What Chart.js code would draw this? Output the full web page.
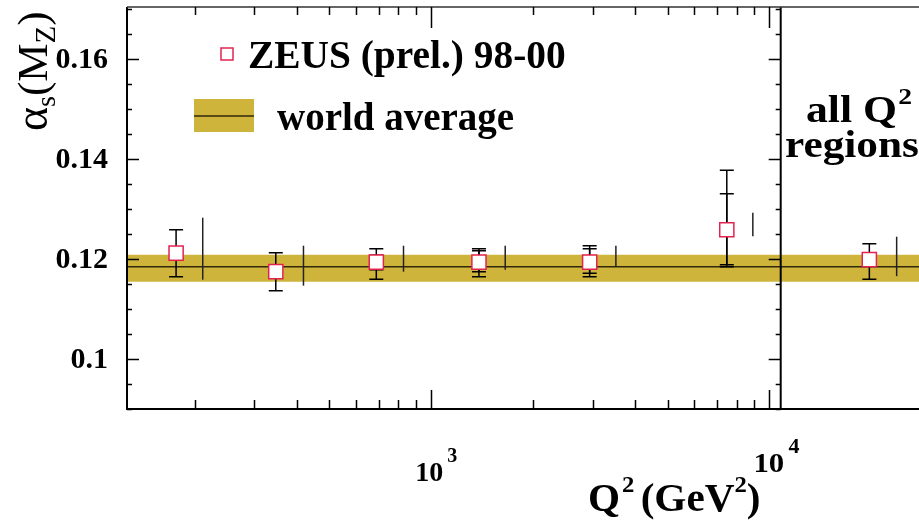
<!DOCTYPE html>
<html>
<head>
<meta charset="utf-8">
<script src="https://cdn.jsdelivr.net/npm/chart.js@4.4.1/dist/chart.umd.min.js"></script>
<style>
html,body{margin:0;padding:0;background:#fff;overflow:hidden;}
#wrap{position:relative;width:960px;height:521px;}
</style>
</head>
<body>
<div id="wrap"><canvas id="c" width="960" height="521"></canvas></div>
<script>
// alpha_s(MZ) per Q2 bin (ZEUS prel. 98-00)
const q2 = [176, 347, 688, 1384, 2941, 7482];
const alphaS = [0.1212, 0.1175, 0.1194, 0.1194, 0.1194, 0.1259];
const statHi = [0.1224, 0.1186, 0.1208, 0.1217, 0.1221, 0.1331];
const statLo = [0.1200, 0.1164, 0.1179, 0.1175, 0.1172, 0.1189];
const totHi  = [0.1259, 0.1213, 0.1221, 0.1221, 0.1227, 0.1378];
const totLo  = [0.1165, 0.1137, 0.1160, 0.1165, 0.1165, 0.1185];

// second set of ranges, drawn as plain lines beside each point
const rangeQ2 = [211, 419, 828, 1655, 3516, 8934];
const rangeHi = [0.1283, 0.1227, 0.1227, 0.1227, 0.1227, 0.1293];
const rangeLo = [0.1159, 0.1147, 0.1175, 0.1179, 0.1185, 0.1246];

// combined "all Q2 regions" panel (x from 0 to 1)
const allX = [0.5];
const allAlpha = [0.1199];
const allStatHi = [0.1206];
const allStatLo = [0.1192];
const allTotHi = [0.1231];
const allTotLo = [0.1160];
const allRangeX = [0.654];
const allRangeHi = [0.1245];
const allRangeLo = [0.1166];

// world average
const worldAvg = [0.1185];
const worldBand = [0.1155, 0.1209];

// axes
const xRange = [126, 10800];
const yRange = [0.09, 0.1705];
const yTickVals = [0.1, 0.12, 0.14, 0.16];
const yTickText = ['0.1', '0.12', '0.14', '0.16'];
const xTickVals = [1000, 10000];
const xTickExp = ['3', '4'];

const GOLD = '#cfb43c';
const RED = '#e3234f';
const FONT = '"Liberation Serif", "DejaVu Serif", serif';

function hline(y, axis, lo, hi, extra) {
  return Object.assign({
    data: [{x: lo, y: y}, {x: hi, y: y}],
    xAxisID: axis, showLine: true, pointRadius: 0, borderWidth: 0, fill: false, order: 10
  }, extra || {});
}

const datasets = [
  hline(worldBand[0], 'x', xRange[0], xRange[1]),
  hline(worldBand[1], 'x', xRange[0], xRange[1], {fill: '-1', backgroundColor: GOLD}),
  hline(worldBand[0], 'x2', 0, 1),
  hline(worldBand[1], 'x2', 0, 1, {fill: '-1', backgroundColor: GOLD}),
  hline(worldAvg[0], 'x', xRange[0], xRange[1], {borderWidth: 1.5, borderColor: 'rgba(20,15,0,0.85)', order: 5}),
  hline(worldAvg[0], 'x2', 0, 1, {borderWidth: 1.5, borderColor: 'rgba(20,15,0,0.85)', order: 5}),
  {
    label: 'points',
    data: q2.map((q, i) => ({x: q, y: alphaS[i]})),
    xAxisID: 'x', pointStyle: 'rect', pointRadius: 10, order: 1,
    backgroundColor: '#fff', borderColor: RED, borderWidth: 1.5
  },
  {
    label: 'all',
    data: allX.map((v, i) => ({x: v, y: allAlpha[i]})),
    xAxisID: 'x2', pointStyle: 'rect', pointRadius: 10, order: 0,
    backgroundColor: '#fff', borderColor: RED, borderWidth: 1.5
  }
];

function drawRich(ctx, parts, x, y, stretch) {
  ctx.save();
  ctx.translate(x, y);
  ctx.scale(stretch || 1, 1);
  let cx = 0;
  for (const p of parts) {
    ctx.font = (p.w || 'bold') + ' ' + p.s + 'px ' + FONT;
    ctx.fillText(p.t, cx, p.dy || 0);
    cx += ctx.measureText(p.t).width + (p.gap || 0);
  }
  ctx.restore();
}

function bar(ctx, x, y1, y2, cap) {
  ctx.beginPath();
  ctx.moveTo(x, y1); ctx.lineTo(x, y2);
  if (cap) {
    ctx.moveTo(x - cap, y1); ctx.lineTo(x + cap, y1);
    ctx.moveTo(x - cap, y2); ctx.lineTo(x + cap, y2);
  }
  ctx.stroke();
}

const errorBars = {
  id: 'errorBars',
  beforeDatasetDraw(chart, args) {
    if (args.index !== 6) return;
    const ctx = chart.ctx, sx = chart.scales.x, sx2 = chart.scales.x2, sy = chart.scales.y;
    ctx.save();
    ctx.strokeStyle = '#000';
    ctx.lineWidth = 1.5;
    q2.forEach((q, i) => {
      const px = sx.getPixelForValue(q);
      bar(ctx, px, sy.getPixelForValue(totHi[i]), sy.getPixelForValue(totLo[i]), 7);
      bar(ctx, px, sy.getPixelForValue(statHi[i]), sy.getPixelForValue(statLo[i]), 7);
    });
    allX.forEach((v, i) => {
      const px = sx2.getPixelForValue(v);
      bar(ctx, px, sy.getPixelForValue(allTotHi[i]), sy.getPixelForValue(allTotLo[i]), 7);
      bar(ctx, px, sy.getPixelForValue(allStatHi[i]), sy.getPixelForValue(allStatLo[i]), 7);
    });
    ctx.strokeStyle = '#222';
    rangeQ2.forEach((q, i) => {
      bar(ctx, sx.getPixelForValue(q), sy.getPixelForValue(rangeHi[i]), sy.getPixelForValue(rangeLo[i]), 0);
    });
    allRangeX.forEach((v, i) => {
      bar(ctx, sx2.getPixelForValue(v), sy.getPixelForValue(allRangeHi[i]), sy.getPixelForValue(allRangeLo[i]), 0);
    });
    ctx.restore();
  }
};

const frame = {
  id: 'frame',
  afterDraw(chart) {
    const ctx = chart.ctx, a = chart.chartArea;
    const sx = chart.scales.x, sy = chart.scales.y;
    const div = sx.right;
    ctx.save();
    ctx.strokeStyle = '#000';
    ctx.lineWidth = 2;
    ctx.beginPath();
    ctx.moveTo(a.left, a.top); ctx.lineTo(a.left, a.bottom); ctx.lineTo(a.right, a.bottom);
    ctx.moveTo(div, a.top); ctx.lineTo(div, a.bottom);
    ctx.stroke();
    ctx.lineWidth = 1.5;
    ctx.strokeStyle = '#333';
    ctx.beginPath();
    ctx.moveTo(a.left, a.top); ctx.lineTo(a.right, a.top);
    ctx.stroke();

    // y ticks, left axis and panel divider
    ctx.lineWidth = 1.5;
    ctx.strokeStyle = '#000';
    ctx.beginPath();
    for (let k = 18; k <= 34; k++) {
      const v = k * 0.005;
      if (v < yRange[0] - 1e-9 || v > yRange[1]) continue;
      const py = Math.round(sy.getPixelForValue(v)) + 0.5;
      const len = k % 4 === 0 ? 12 : 5;
      ctx.moveTo(a.left, py); ctx.lineTo(a.left + len, py);
      ctx.moveTo(div, py); ctx.lineTo(div - len, py);
    }
    // x ticks, bottom and top
    for (let e = 2; e <= 3; e++) {
      for (let m = 1; m <= 9; m++) {
        const q = m === 1 ? Math.pow(10, e + 1) : m * Math.pow(10, e);
        if (q < xRange[0] || q > xRange[1]) continue;
        const px = Math.round(sx.getPixelForValue(q)) + 0.5;
        const major = m === 1;
        ctx.moveTo(px, a.bottom); ctx.lineTo(px, a.bottom - (major ? 19 : 9));
        ctx.moveTo(px, a.top); ctx.lineTo(px, a.top + (major ? 21 : 8));
      }
    }
    ctx.stroke();

    ctx.fillStyle = '#000';
    // y tick labels
    ctx.textAlign = 'right';
    ctx.textBaseline = 'middle';
    ctx.font = 'bold 30px ' + FONT;
    yTickVals.forEach((v, i) => ctx.fillText(yTickText[i], 108, sy.getPixelForValue(v) + 1));

    // x tick labels
    ctx.textAlign = 'left';
    ctx.textBaseline = 'alphabetic';
    xTickVals.forEach((v, i) => {
      const px = sx.getPixelForValue(v);
      const base = i === 0 ? 481 : 472;
      drawRich(ctx, [{t: '10', s: 28, gap: 4}, {t: xTickExp[i], s: 20, dy: -19}], px - 16, base, i === 0 ? 1 : 1.1);
    });

    // x title
    drawRich(ctx, [{t: 'Q', s: 40, gap: 2}, {t: '2', s: 24, dy: -19, gap: 6}, {t: '(GeV', s: 40},
      {t: '2', s: 24, dy: -19}, {t: ')', s: 40}], 588, 511, 1.03);

    // y title
    ctx.save();
    ctx.translate(47, 131);
    ctx.rotate(-Math.PI / 2);
    drawRich(ctx, [{t: '\u03b1', s: 46, w: 'normal'}, {t: 's', s: 28, w: 'normal', dy: 8},
      {t: '(M', s: 43, w: 'normal'}, {t: 'Z', s: 29, w: 'normal', dy: 8}, {t: ')', s: 43, w: 'normal'}], 0, 0);
    ctx.restore();

    // legend
    ctx.strokeStyle = RED;
    ctx.lineWidth = 1.5;
    ctx.strokeRect(221, 48, 12, 12);
    drawRich(ctx, [{t: 'ZEUS (prel.) 98-00', s: 39}], 248, 68, 1.01);
    ctx.fillStyle = GOLD;
    ctx.fillRect(194, 99, 60, 33);
    ctx.strokeStyle = 'rgba(20,15,0,0.85)';
    ctx.beginPath(); ctx.moveTo(194, 116); ctx.lineTo(254, 116); ctx.stroke();
    ctx.fillStyle = '#000';
    drawRich(ctx, [{t: 'world average', s: 39}], 277, 130, 1.0);

    // second panel label
    drawRich(ctx, [{t: 'all Q', s: 38, gap: 1}, {t: '2', s: 24, dy: -18}], 806, 122, 1.15);
    drawRich(ctx, [{t: 'regions', s: 38}], 785, 157, 1.14);
    ctx.restore();
  }
};

new Chart(document.getElementById('c'), {
  type: 'scatter',
  data: {datasets},
  options: {
    responsive: false,
    animation: false,
    layout: {autoPadding: false, padding: {left: 127, top: 7, right: 2, bottom: 112}},
    plugins: {legend: {display: false}, tooltip: {enabled: false}},
    scales: {
      x: {type: 'logarithmic', min: xRange[0], max: xRange[1], position: 'bottom',
          stack: 'q', stackWeight: 653.7, display: false},
      x2: {type: 'linear', min: 0, max: 1, position: 'bottom',
          stack: 'q', stackWeight: 177.3, display: false},
      y: {type: 'linear', min: yRange[0], max: yRange[1], display: false}
    }
  },
  plugins: [errorBars, frame]
});
</script>
</body>
</html>
